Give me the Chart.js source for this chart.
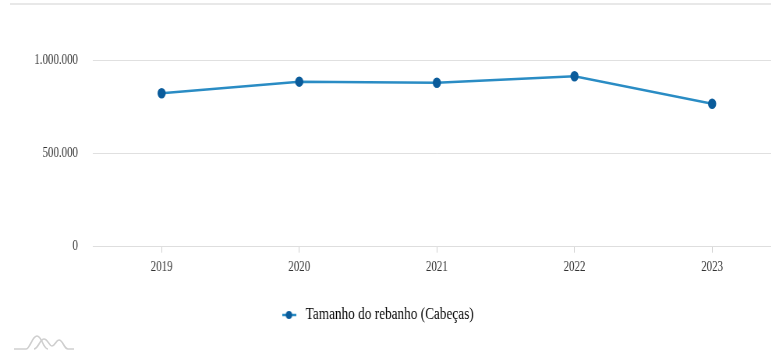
<!DOCTYPE html>
<html><head><meta charset="utf-8">
<script src="https://cdn.jsdelivr.net/npm/chart.js@4"></script>
<style>
html,body{margin:0;padding:0;background:#fff;overflow:hidden;width:771px;height:352px;}
#wrap{position:relative;width:771px;height:352px;overflow:hidden;}
#c{position:absolute;left:0;top:0;}
#topline{position:absolute;left:10px;top:3px;width:761px;height:2px;background:#e8e8e8;}
#logo{position:absolute;left:8px;top:330px;}
</style></head>
<body><div id="wrap"><div id="topline"></div>
<canvas id="c" width="1008" height="352" style="width:786.24px;height:352px;"></canvas>
<svg id="logo" width="70" height="22" viewBox="0 0 70 22">
<path d="M6 19 L18 19 C22 19 24 6 29 6 C34 6 35 19 40 19" fill="none" stroke="#cfcfcf" stroke-width="1.6"/>
<path d="M26 19 C30 19 32 9 36 9 C40 9 41 16 44 16 C47 16 48 10 51 10 C55 10 56 19 60 19 L66 19" fill="none" stroke="#cfcfcf" stroke-width="1.6"/>
</svg>
</div>
<script>
const years = ['2019', '2020', '2021', '2022', '2023'];
const herdSize = [822000, 884000, 878000, 913000, 766000];
const yTicks = [0, 500000, 1000000];
const seriesLabel = 'Tamanho do rebanho (Cabeças)';

const lineColor = '#2a8cc4';
const pointColor = '#0b5c9b';
const fmt = v => String(Math.round(v)).replace(/\B(?=(\d{3})+(?!\d))/g, '.');

const marker = document.createElement('canvas');
marker.width = 18; marker.height = 10;
(function(){
  const g = marker.getContext('2d');
  g.strokeStyle = lineColor; g.lineWidth = 2.5;
  g.beginPath(); g.moveTo(0,5); g.lineTo(18,5); g.stroke();
  g.fillStyle = pointColor;
  g.beginPath(); g.arc(9,5,4,0,Math.PI*2); g.fill();
})();

const legendShift = {
  id: 'legendShift',
  afterLayout(chart){ const l = chart.legend; if(l){ l.left -= 21; l.right -= 21; } }
};

new Chart(document.getElementById('c'), {
  type: 'line',
  data: {
    labels: years,
    datasets: [{
      label: seriesLabel,
      data: herdSize,
      borderColor: lineColor,
      backgroundColor: pointColor,
      pointBackgroundColor: pointColor,
      pointBorderColor: pointColor,
      pointRadius: 4,
      pointStyle: 'circle',
      borderWidth: 2.5,
      tension: 0,
      fill: false
    }]
  },
  plugins: [legendShift],
  options: {
    responsive: false,
    animation: false,
    devicePixelRatio: 1,
    layout: { padding: { top: 60, left: 0, right: 1, bottom: 18.5 } },
    plugins: {
      title: { display: false },
      tooltip: { enabled: false },
      legend: {
        position: 'bottom',
        labels: {
          usePointStyle: true,
          pointStyle: marker,
          pointStyleWidth: 26,
          padding: 10,
          color: '#2a2a2a',
          font: { family: '"Liberation Serif", "DejaVu Serif", serif', size: 17 },
          generateLabels: (chart) => [{
            text: seriesLabel, pointStyle: marker, fillStyle: pointColor,
            strokeStyle: lineColor, lineWidth: 0, hidden: false, datasetIndex: 0
          }]
        }
      }
    },
    scales: {
      x: {
        offset: true,
        afterFit: s => { s.height = 49.8; },
        grid: { drawOnChartArea: false, drawTicks: true, tickLength: 6, color: '#cfcfcf' },
        border: { display: true, color: '#dedede' },
        ticks: { color: '#333', padding: 6, font: { family: '"Liberation Serif", "DejaVu Serif", serif', size: 14 } }
      },
      y: {
        min: 0, max: 1000000,
        afterFit: s => { s.width = 119; },
        afterBuildTicks: s => { s.ticks = yTicks.map(v => ({ value: v })); },
        grid: { color: '#e0e0e0', drawTicks: false, lineWidth: 1 },
        border: { display: false },
        ticks: { color: '#333', padding: 19, callback: v => fmt(v),
                 font: { family: '"Liberation Serif", "DejaVu Serif", serif', size: 14 } }
      }
    }
  }
});
</script>
</body></html>
